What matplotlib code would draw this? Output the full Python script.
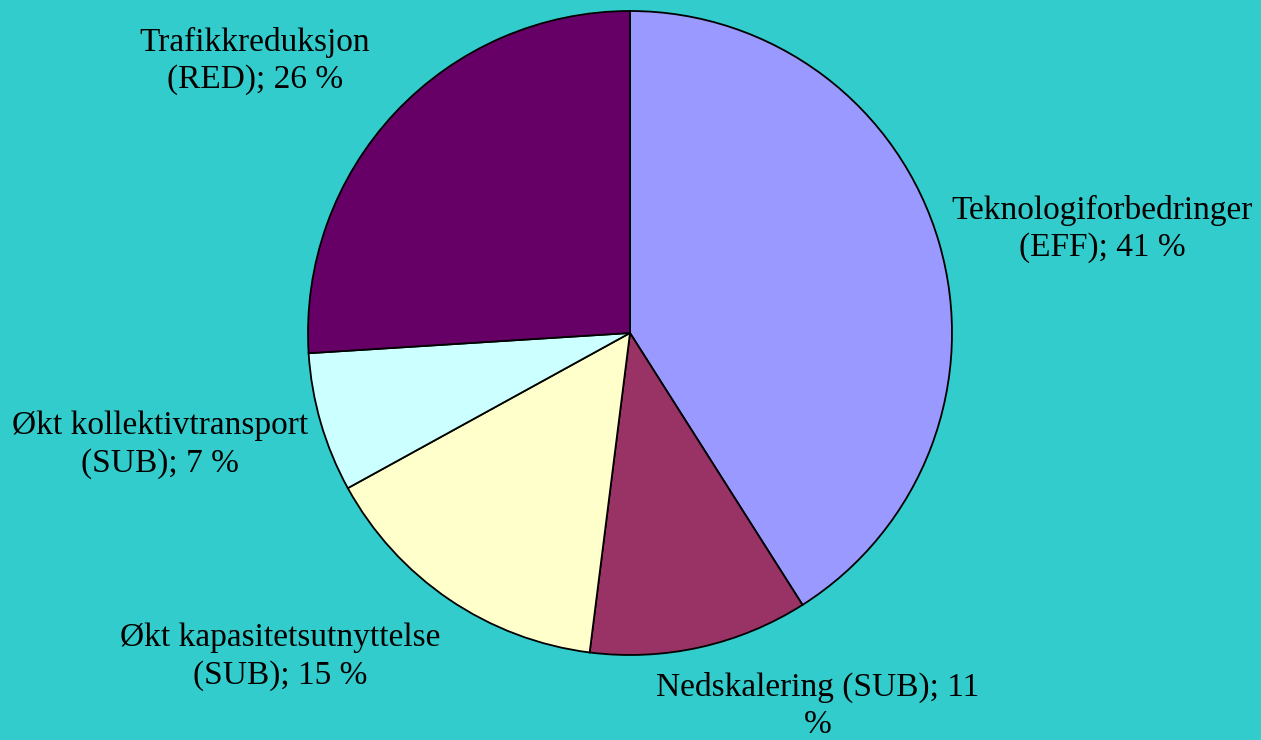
import matplotlib
matplotlib.use('Agg')
import matplotlib.pyplot as plt

# slices, clockwise from 12 o'clock
labels = ['Teknologiforbedringer\n(EFF); 41 %',
          'Nedskalering (SUB); 11\n%',
          'Økt kapasitetsutnyttelse\n(SUB); 15 %',
          'Økt kollektivtransport\n(SUB); 7 %',
          'Trafikkreduksjon\n(RED); 26 %']
shares = [41, 11, 15, 7, 26]
colours = ['#9999FF', '#993366', '#FFFFCC', '#CCFFFF', '#660066']
# where the label text sits (pixels from top-left of figure)
label_px = [(1102, 229), (818, 706), (280, 657), (160, 445), (255, 61)]

bg = '#33CCCC'
W, H = 1261, 740
fig = plt.figure(figsize=(W / 100, H / 100), dpi=100, facecolor=bg)

# pie centre (630, 333) px, radius 322 px
cx, cy, r = 630, 333, 322
ax = fig.add_axes([(cx - r) / W, (H - cy - r) / H, 2 * r / W, 2 * r / H])
ax.set_facecolor(bg)
ax.pie(shares, colors=colours, startangle=90, counterclock=False,
       wedgeprops={'edgecolor': 'black', 'linewidth': 1.3})
ax.set_xlim(-1, 1)
ax.set_ylim(-1, 1)
ax.set_aspect('equal')
ax.axis('off')

for txt, (px, py) in zip(labels, label_px):
    fig.text(px / W, 1 - py / H, txt, ha='center', va='center',
             family='Liberation Serif', fontsize=24, linespacing=1.3)

fig.savefig('out.png', dpi=100, facecolor=bg)
